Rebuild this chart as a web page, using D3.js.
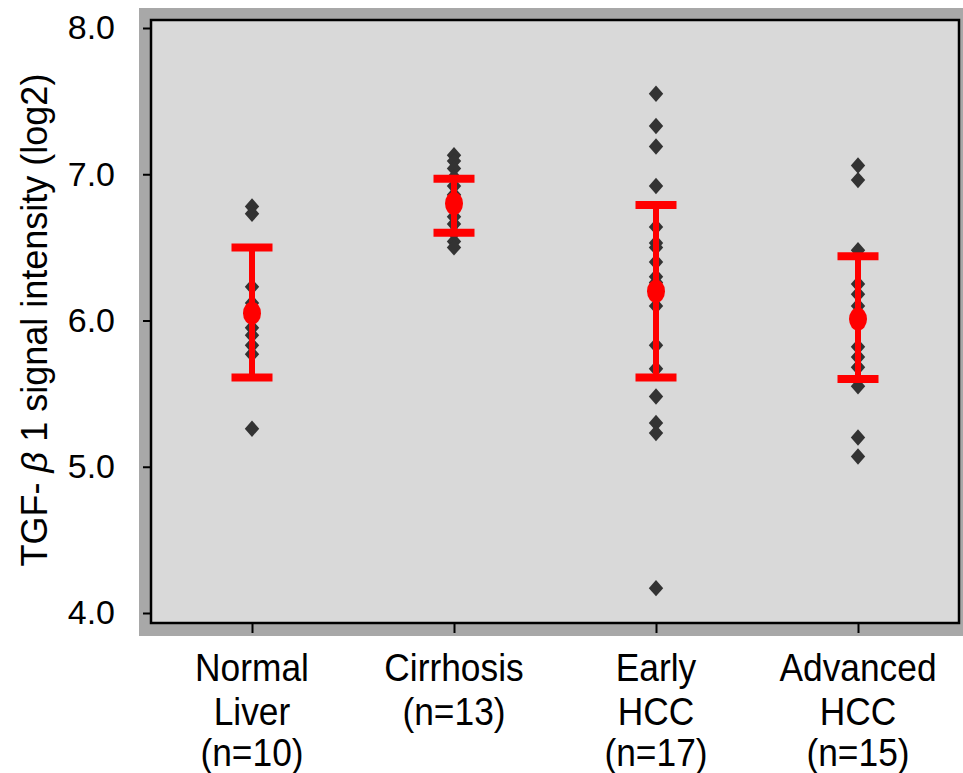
<!DOCTYPE html>
<html>
<head>
<meta charset="utf-8">
<script src="https://cdn.jsdelivr.net/npm/d3@7"></script>
<style>
  html, body { margin: 0; padding: 0; background: #ffffff; }
  svg { display: block; }
  text { font-family: "Liberation Sans", Arial, Helvetica, sans-serif; fill: #000; }
</style>
</head>
<body>
<svg id="chart" width="963" height="773"></svg>
<script>
// ---------------- data ----------------
const categories = ["Normal Liver", "Cirrhosis", "Early HCC", "Advanced HCC"];
const categoryLabelLines = [
  ["Normal", "Liver", "(n=10)"],
  ["Cirrhosis", "(n=13)"],
  ["Early", "HCC", "(n=17)"],
  ["Advanced", "HCC", "(n=15)"]
];
const normalLiver = [6.78, 6.73, 6.23, 6.12, 6.05, 5.95, 5.90, 5.83, 5.77, 5.26];
const cirrhosis = [7.13, 7.09, 7.04, 6.98, 6.92, 6.86, 6.81, 6.76, 6.71, 6.66, 6.60, 6.54, 6.50];
const earlyHCC = [7.55, 7.33, 7.19, 6.92, 6.64, 6.53, 6.50, 6.40, 6.30, 6.26, 6.10, 5.83, 5.67, 5.48, 5.30, 5.23, 4.17];
const advancedHCC = [7.06, 6.96, 6.48, 6.25, 6.18, 6.10, 6.05, 6.02, 5.98, 5.82, 5.75, 5.68, 5.55, 5.20, 5.07];
const groupValues = [normalLiver, cirrhosis, earlyHCC, advancedHCC];
const groupMeans = [6.05, 6.80, 6.20, 6.01];
const groupUpper = [6.50, 6.97, 6.79, 6.44];
const groupLower = [5.61, 6.60, 5.61, 5.60];
const yTicks = [4.0, 5.0, 6.0, 7.0, 8.0];
const yLabelParts = ["TGF- ", "\u03B2", " 1 signal intensity (log2)"];

// ---------------- layout ----------------
const svg = d3.select("#chart");
const panel = { left: 151, right: 959, top: 20, bottom: 623 };
const frame = { left: 139, right: 963, top: 8, bottom: 636 };

const x = d3.scalePoint().domain(categories).range([panel.left, panel.right]).padding(0.5);
const y = d3.scaleLinear().domain([4, 8]).range([613, 28]);

// outer gray frame
svg.append("rect")
  .attr("x", frame.left).attr("y", frame.top)
  .attr("width", frame.right - frame.left).attr("height", frame.bottom - frame.top)
  .attr("fill", "#a8a8a8");

// inner panel
svg.append("rect")
  .attr("x", panel.left).attr("y", panel.top)
  .attr("width", panel.right - panel.left).attr("height", panel.bottom - panel.top)
  .attr("fill", "#d9d9d9")
  .attr("stroke", "#000").attr("stroke-width", 2.5);

// y axis
const yAxis = d3.axisLeft(y).tickValues(yTicks).tickFormat(d3.format(".1f"))
  .tickSize(8).tickPadding(28);
const gy = svg.append("g").attr("transform", `translate(${panel.left},0)`).call(yAxis);
gy.select(".domain").remove();
gy.selectAll(".tick line").attr("stroke", "#000").attr("stroke-width", 2);
gy.selectAll(".tick text").attr("font-size", 34).attr("fill", "#000")
  .style("font-family", '"Liberation Sans", Arial, sans-serif');

// x axis (ticks only)
const xAxis = d3.axisBottom(x).tickSize(10).tickFormat("");
const gx = svg.append("g").attr("transform", `translate(0,${panel.bottom})`).call(xAxis);
gx.select(".domain").remove();
gx.selectAll(".tick line").attr("stroke", "#000").attr("stroke-width", 2);

// x category labels (multi-line, slightly condensed like the reference)
const lineY = [681, 725, 766];
const sx = 0.93;
categories.forEach((c, i) => {
  const t = svg.append("text")
    .attr("text-anchor", "middle")
    .attr("font-size", 38)
    .attr("transform", `translate(${x(c)},0) scale(${sx},1)`);
  categoryLabelLines[i].forEach((ln, j) => {
    t.append("tspan").attr("x", 0).attr("y", lineY[j]).text(ln);
  });
});

// y axis title
const yt = svg.append("text")
  .attr("transform", `translate(47,${320}) rotate(-90)`)
  .attr("text-anchor", "middle")
  .attr("font-size", 36);
yt.append("tspan").text(yLabelParts[0]);
yt.append("tspan").attr("font-style", "italic").text(yLabelParts[1]);
yt.append("tspan").text(yLabelParts[2]);

// diamond symbol
const diamond = {
  draw(ctx, size) {
    const w = 7.2, h = 8.2;
    ctx.moveTo(0, -h); ctx.lineTo(w, 0); ctx.lineTo(0, h); ctx.lineTo(-w, 0); ctx.closePath();
  }
};
const sym = d3.symbol().type(diamond);

// points
categories.forEach((c, i) => {
  svg.append("g").selectAll("path")
    .data(groupValues[i])
    .join("path")
    .attr("d", sym)
    .attr("transform", d => `translate(${x(c)},${y(d)})`)
    .attr("fill", "#333333");
});

// error bars + means
const capHalf = 20.5;
categories.forEach((c, i) => {
  const g = svg.append("g");
  const cx = x(c);
  g.append("line")
    .attr("x1", cx).attr("x2", cx)
    .attr("y1", y(groupUpper[i])).attr("y2", y(groupLower[i]))
    .attr("stroke", "#ff0000").attr("stroke-width", 6);
  [groupUpper[i], groupLower[i]].forEach(v => {
    g.append("line")
      .attr("x1", cx - capHalf).attr("x2", cx + capHalf)
      .attr("y1", y(v)).attr("y2", y(v))
      .attr("stroke", "#ff0000").attr("stroke-width", 8);
  });
  g.append("ellipse")
    .attr("cx", cx).attr("cy", y(groupMeans[i]))
    .attr("rx", 9).attr("ry", 11.5)
    .attr("fill", "#ff0000");
});
</script>
</body>
</html>
